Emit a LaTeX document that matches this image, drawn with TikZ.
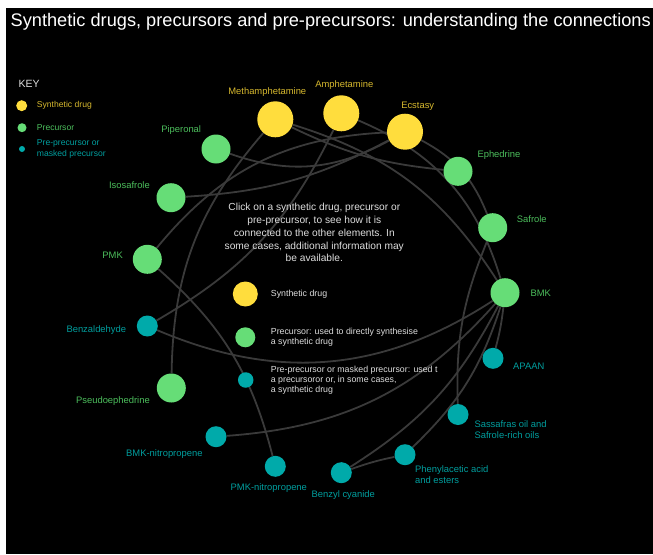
\documentclass[tikz,border=0pt]{standalone}
\usepackage{fontspec}
\setmainfont{Liberation Sans}
\usepackage{xcolor}
\usepackage{tikz}
\definecolor{drugyellow}{RGB}{255,221,61}
\definecolor{precgreen}{RGB}{102,221,119}
\definecolor{preteal}{RGB}{0,170,170}
\definecolor{druglabel}{RGB}{214,184,46}
\definecolor{preclabel}{RGB}{76,190,92}
\definecolor{prelabel}{RGB}{0,158,158}
\definecolor{linkgray}{RGB}{58,58,58}
\definecolor{notegray}{RGB}{222,222,222}
\pgfdeclarelayer{bg}
\pgfdeclarelayer{links}
\pgfsetlayers{bg,links,main}

\begin{document}
\begin{tikzpicture}[x=1pt, y=1pt,
  drug/.style={circle, fill=drugyellow, inner sep=0pt, minimum size=36pt},
  prec/.style={circle, fill=precgreen, inner sep=0pt, minimum size=29pt},
  pre/.style={circle, fill=preteal, inner sep=0pt, minimum size=21pt},
  lab/.style={inner sep=0pt, align=left, font=\fontsize{9.4}{10.7}\selectfont},
  druglab/.style={lab, text=druglabel},
  preclab/.style={lab, text=preclabel},
  prelab/.style={lab, text=prelabel},
  note/.style={inner sep=0pt, align=left, text=notegray, font=\fontsize{8.8}{10.4}\selectfont},
  keytext/.style={inner sep=0pt, align=left, anchor=west, font=\fontsize{8.6}{11}\selectfont},
  link/.style={draw=linkgray, line width=1.8pt}]
\begin{pgfonlayer}{bg}
\fill[white] (0,0) rectangle (653,-554);
\fill[black] (6,-8) rectangle (653,-554);
\end{pgfonlayer}
\useasboundingbox (0,0) rectangle (653,-554);

\node[anchor=west, inner sep=0pt, text=white, font=\fontsize{18.2}{20}\selectfont] (title) at (10.5,-22) {Synthetic drugs, precursors and pre-precursors: understanding the connections};

% key
\node[anchor=west, inner sep=0pt, text=notegray, font=\fontsize{10.5}{12}\selectfont] (key) at (18.3,-84) {KEY};
\node[circle, fill=drugyellow, inner sep=0pt, minimum size=11pt] (keydrug) at (21.7,-105.7) {};
\node[circle, fill=precgreen, inner sep=0pt, minimum size=9pt] (keyprec) at (22,-127.7) {};
\node[circle, fill=preteal, inner sep=0pt, minimum size=6pt] (keypre) at (22,-149) {};
\node[keytext, text=druglabel] (keydrugtxt) at (36.7,-105.7) {Synthetic drug};
\node[keytext, text=preclabel] (keyprectxt) at (36.7,-127.7) {Precursor};
\node[keytext, text=prelabel] (keypretxt) at (36.7,-148.8) {Pre-precursor or\\masked precursor};

% synthetic drugs
\node[drug] (meth) at (275.3,-119.3) {};
\node[drug] (amph) at (341.3,-113.3) {};
\node[drug] (ecst) at (405,-131.7) {};
% precursors
\node[prec] (pip) at (216,-149) {};
\node[prec] (eph) at (458,-171.3) {};
\node[prec] (iso) at (171,-197.7) {};
\node[prec] (saf) at (492.7,-227.7) {};
\node[prec] (pmk) at (147.3,-259.3) {};
\node[prec] (bmk) at (505,-292.7) {};
\node[prec] (pseudo) at (171.3,-388) {};
% pre-precursors
\node[pre] (benz) at (147.3,-326) {};
\node[pre] (apaan) at (493,-358.3) {};
\node[pre] (sass) at (458,-414.5) {};
\node[pre] (phen) at (405,-454.7) {};
\node[pre] (bcy) at (341.3,-472.7) {};
\node[pre] (pmknp) at (275.3,-466.3) {};
\node[pre] (bmknp) at (216,-436.7) {};

% labels
\node[druglab] (methlab) at (267.3,-92.3) {Methamphetamine};
\node[druglab] (amphlab) at (344.3,-85) {Amphetamine};
\node[druglab] (ecstlab) at (417.7,-106) {Ecstasy};
\node[preclab] (piplab) at (181.2,-130) {Piperonal};
\node[preclab, anchor=west] (ephlab) at (477.3,-155) {Ephedrine};
\node[preclab, anchor=east] (isolab) at (150,-185.3) {Isosafrole};
\node[preclab, anchor=west] (saflab) at (516.7,-219) {Safrole};
\node[preclab, anchor=east] (pmklab) at (123,-255.3) {PMK};
\node[preclab, anchor=west] (bmklab) at (530.3,-293) {BMK};
\node[preclab, anchor=east] (pseudolab) at (150,-401.3) {Pseudoephedrine};
\node[prelab, anchor=east] (benzlab) at (126.3,-330.3) {Benzaldehyde};
\node[prelab, anchor=west] (apaanlab) at (513,-366) {APAAN};
\node[prelab, anchor=west] (sasslab) at (474.3,-429.7) {Sassafras oil and\\Safrole-rich oils};
\node[prelab, anchor=west] (phenlab) at (415,-474.3) {Phenylacetic acid\\and esters};
\node[prelab] (bcylab) at (343.3,-495.3) {Benzyl cyanide};
\node[prelab] (pmknplab) at (268.8,-487.7) {PMK-nitropropene};
\node[prelab, anchor=east] (bmknplab) at (202.7,-454.3) {BMK-nitropropene};

% help text and legend
\node[inner sep=0pt, align=center, text=notegray, font=\fontsize{10.2}{12.9}\selectfont] (help) at (314.3,-232.5) {Click on a synthetic drug, precursor or\\pre-precursor, to see how it is\\connected to the other elements. In\\some cases, additional information may\\be available.};
\node[circle, fill=drugyellow, inner sep=0pt, minimum size=25pt] (legdrug) at (245.3,-294) {};
\node[circle, fill=precgreen, inner sep=0pt, minimum size=20pt] (legprec) at (245.3,-337.3) {};
\node[circle, fill=preteal, inner sep=0pt, minimum size=15.5pt] (legpre) at (245.7,-380) {};
\node[note, anchor=west] (legdrugtxt) at (270.7,-294) {Synthetic drug};
\node[note, anchor=west] (legprectxt) at (270.7,-337.5) {Precursor: used to directly synthesise\\a synthetic drug};
\node[note, anchor=west] (legpretxt) at (270.7,-380.3) {Pre-precursor or masked precursor: used t\\a precursoror or, in some cases,\\a synthetic drug};

% connections
\begin{pgfonlayer}{links}
\draw[link] (pseudo) to[bend left=20] (meth);
\draw[link] (meth) to[bend right=10] (eph);
\draw[link] (meth) to[bend left=20] (bmk);
\draw[link] (amph) to[bend left=25] (bmk);
\draw[link] (amph) to[bend left=17] (benz);
\draw[link] (pip) to[bend right=24] (ecst);
\draw[link] (iso) to[bend right=12] (ecst);
\draw[link] (pmk) to[bend left=24] (ecst);
\draw[link] (ecst) to[bend left=20] (saf);
\draw[link] (saf) to[bend right=12] (sass);
\draw[link] (bmk) to[bend left=4] (apaan);
\draw[link] (bmk) to[bend left=14] (phen);
\draw[link] (bmk) to[bend left=15] (bcy);
\draw[link] (bcy) to[bend left=4] (phen);
\draw[link] (benz) to[bend right=28] (bmk);
\draw[link] (bmknp) to[bend right=22] (bmk);
\draw[link] (pmk) to[bend left=17] (pmknp);
\end{pgfonlayer}
\end{tikzpicture}
\end{document}
